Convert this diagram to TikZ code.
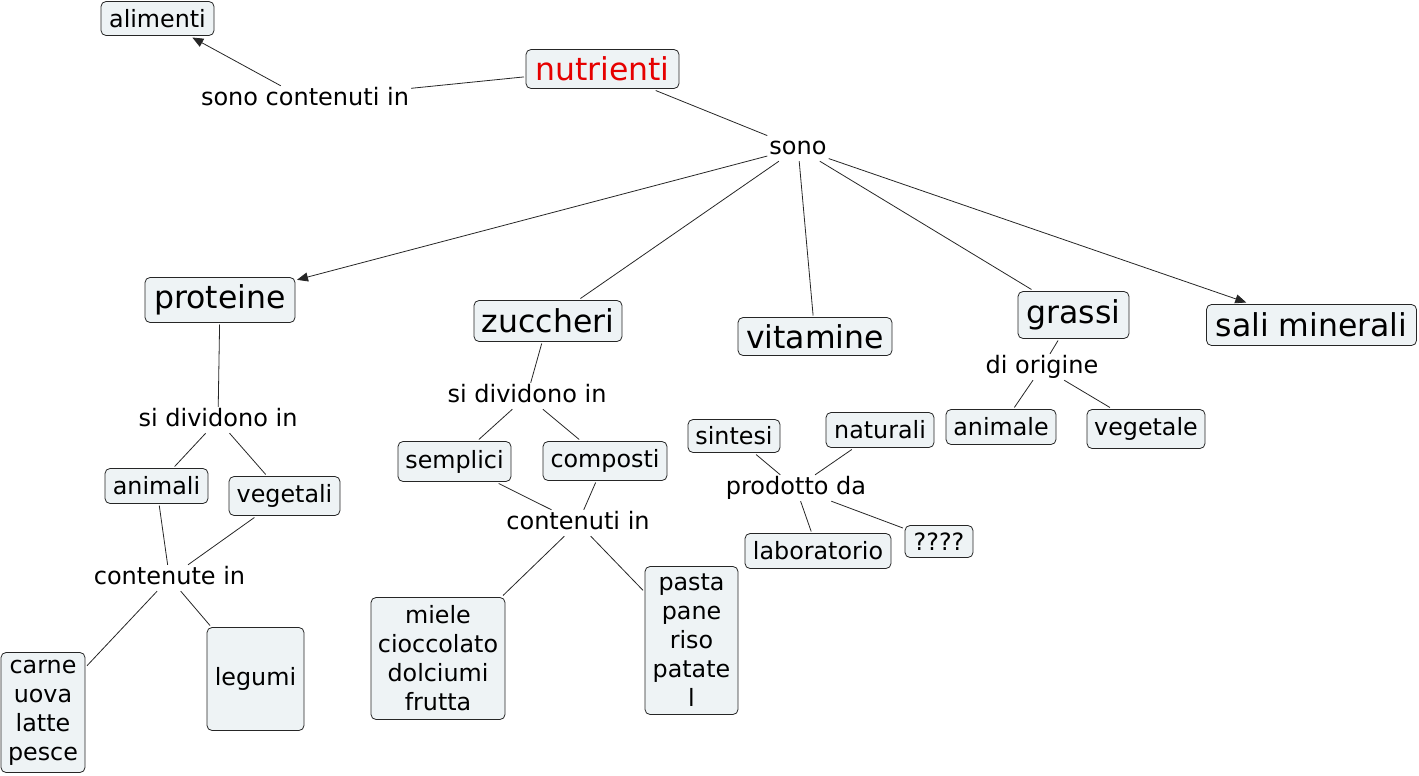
\documentclass[tikz,border=0pt]{standalone}
\usepackage{fontspec}
\setmainfont{DejaVu Sans}
\usetikzlibrary{arrows.meta}
\definecolor{boxfill}{RGB}{238,243,245}
\definecolor{nutred}{RGB}{230,0,0}
\begin{document}
\begin{tikzpicture}[x=1pt,y=-1pt,
 box/.style={draw=black!85, fill=boxfill, rounded corners=5pt, line width=0.8pt, inner sep=0pt, outer sep=2pt, align=center, font=\fontsize{23.8}{29}\selectfont},
 big/.style={box, font=\fontsize{31.5}{36}\selectfont},
 lbl/.style={inner sep=2pt, font=\fontsize{24}{29}\selectfont, text height=17pt, text depth=5pt},
 conn/.style={draw=black!85, line width=0.8pt},
 arr/.style={conn, -{Triangle[length=11pt,width=9pt]}}]
\useasboundingbox (0,0) rectangle (1419,776);
% concepts
\node[box, minimum width=113pt, minimum height=34pt] (alimenti) at (157.5,18.5) {alimenti};
\node[big, minimum width=153pt, minimum height=39pt, text=nutred] (nutrienti) at (602.5,69) {nutrienti};
\node[big, minimum width=150pt, minimum height=45pt] (proteine) at (220,300) {proteine};
\node[big, minimum width=148pt, minimum height=41pt] (zuccheri) at (548,321) {zuccheri};
\node[big, minimum width=154pt, minimum height=38pt] (vitamine) at (815,336.5) {vitamine};
\node[big, minimum width=111pt, minimum height=47pt] (grassi) at (1073.5,315) {grassi};
\node[big, minimum width=210pt, minimum height=41pt] (sali) at (1311.5,325) {sali minerali};
\node[box, minimum width=110pt, minimum height=35pt] (animale) at (1001,427) {animale};
\node[box, minimum width=118pt, minimum height=39pt] (vegetale) at (1146,429) {vegetale};
\node[box, minimum width=103pt, minimum height=35pt] (animali) at (156.5,486) {animali};
\node[box, minimum width=111pt, minimum height=39pt] (vegetali) at (284.5,496) {vegetali};
\node[box, minimum width=84pt, minimum height=120pt] (carne) at (43,712.5) {carne\\uova\\latte\\pesce};
\node[box, minimum width=97pt, minimum height=103pt] (legumi) at (255.5,679) {legumi};
\node[box, minimum width=113pt, minimum height=40pt] (semplici) at (454.5,461.5) {semplici};
\node[box, minimum width=124pt, minimum height=39pt] (composti) at (605,461) {composti};
\node[box, minimum width=134pt, minimum height=122pt] (miele) at (438,658.5) {miele\\cioccolato\\dolciumi\\frutta};
\node[box, minimum width=93pt, minimum height=148pt] (pasta) at (691.5,640.5) {pasta\\pane\\riso\\patate\\l};
\node[box, minimum width=92pt, minimum height=33pt] (sintesi) at (734,436) {sintesi};
\node[box, minimum width=108pt, minimum height=35pt] (naturali) at (880,430) {naturali};
\node[box, minimum width=146pt, minimum height=35pt] (laboratorio) at (818,551) {laboratorio};
\node[box, minimum width=68pt, minimum height=32pt] (qqq) at (939,541.5) {????};
% linking phrases
\node[lbl] (l1) at (305,99) {sono contenuti in};
\node[lbl] (l2) at (798,148) {sono};
\node[lbl] (l3) at (218,420) {si dividono in};
\node[lbl] (l4) at (169.5,578) {contenute in};
\node[lbl] (l5) at (527,396) {si dividono in};
\node[lbl] (l6) at (578,523) {contenuti in};
\node[lbl] (l7) at (796,488) {prodotto da};
\node[lbl] (l8) at (1042,367) {di origine};
% connectors
\draw[conn] (nutrienti) -- (l1);
\draw[arr] (l1) -- (alimenti);
\draw[conn] (nutrienti) -- (l2);
\draw[arr] (l2) -- (proteine);
\draw[conn] (l2) -- (zuccheri);
\draw[conn] (l2) -- (vitamine);
\draw[conn] (l2) -- (grassi);
\draw[arr] (l2) -- (sali);
\draw[conn] (proteine) -- (l3);
\draw[conn] (l3) -- (animali);
\draw[conn] (l3) -- (vegetali);
\draw[conn] (animali) -- (l4);
\draw[conn] (vegetali) -- (l4);
\draw[conn] (l4) -- (carne);
\draw[conn] (l4) -- (legumi);
\draw[conn] (zuccheri) -- (l5);
\draw[conn] (l5) -- (semplici);
\draw[conn] (l5) -- (composti);
\draw[conn] (semplici) -- (l6);
\draw[conn] (composti) -- (l6);
\draw[conn] (l6) -- (miele);
\draw[conn] (l6) -- (pasta);
\draw[conn] (sintesi) -- (l7);
\draw[conn] (naturali) -- (l7);
\draw[conn] (l7) -- (laboratorio);
\draw[conn] (l7) -- (qqq);
\draw[conn] (grassi) -- (l8);
\draw[conn] (l8) -- (animale);
\draw[conn] (l8) -- (vegetale);
\end{tikzpicture}
\end{document}
